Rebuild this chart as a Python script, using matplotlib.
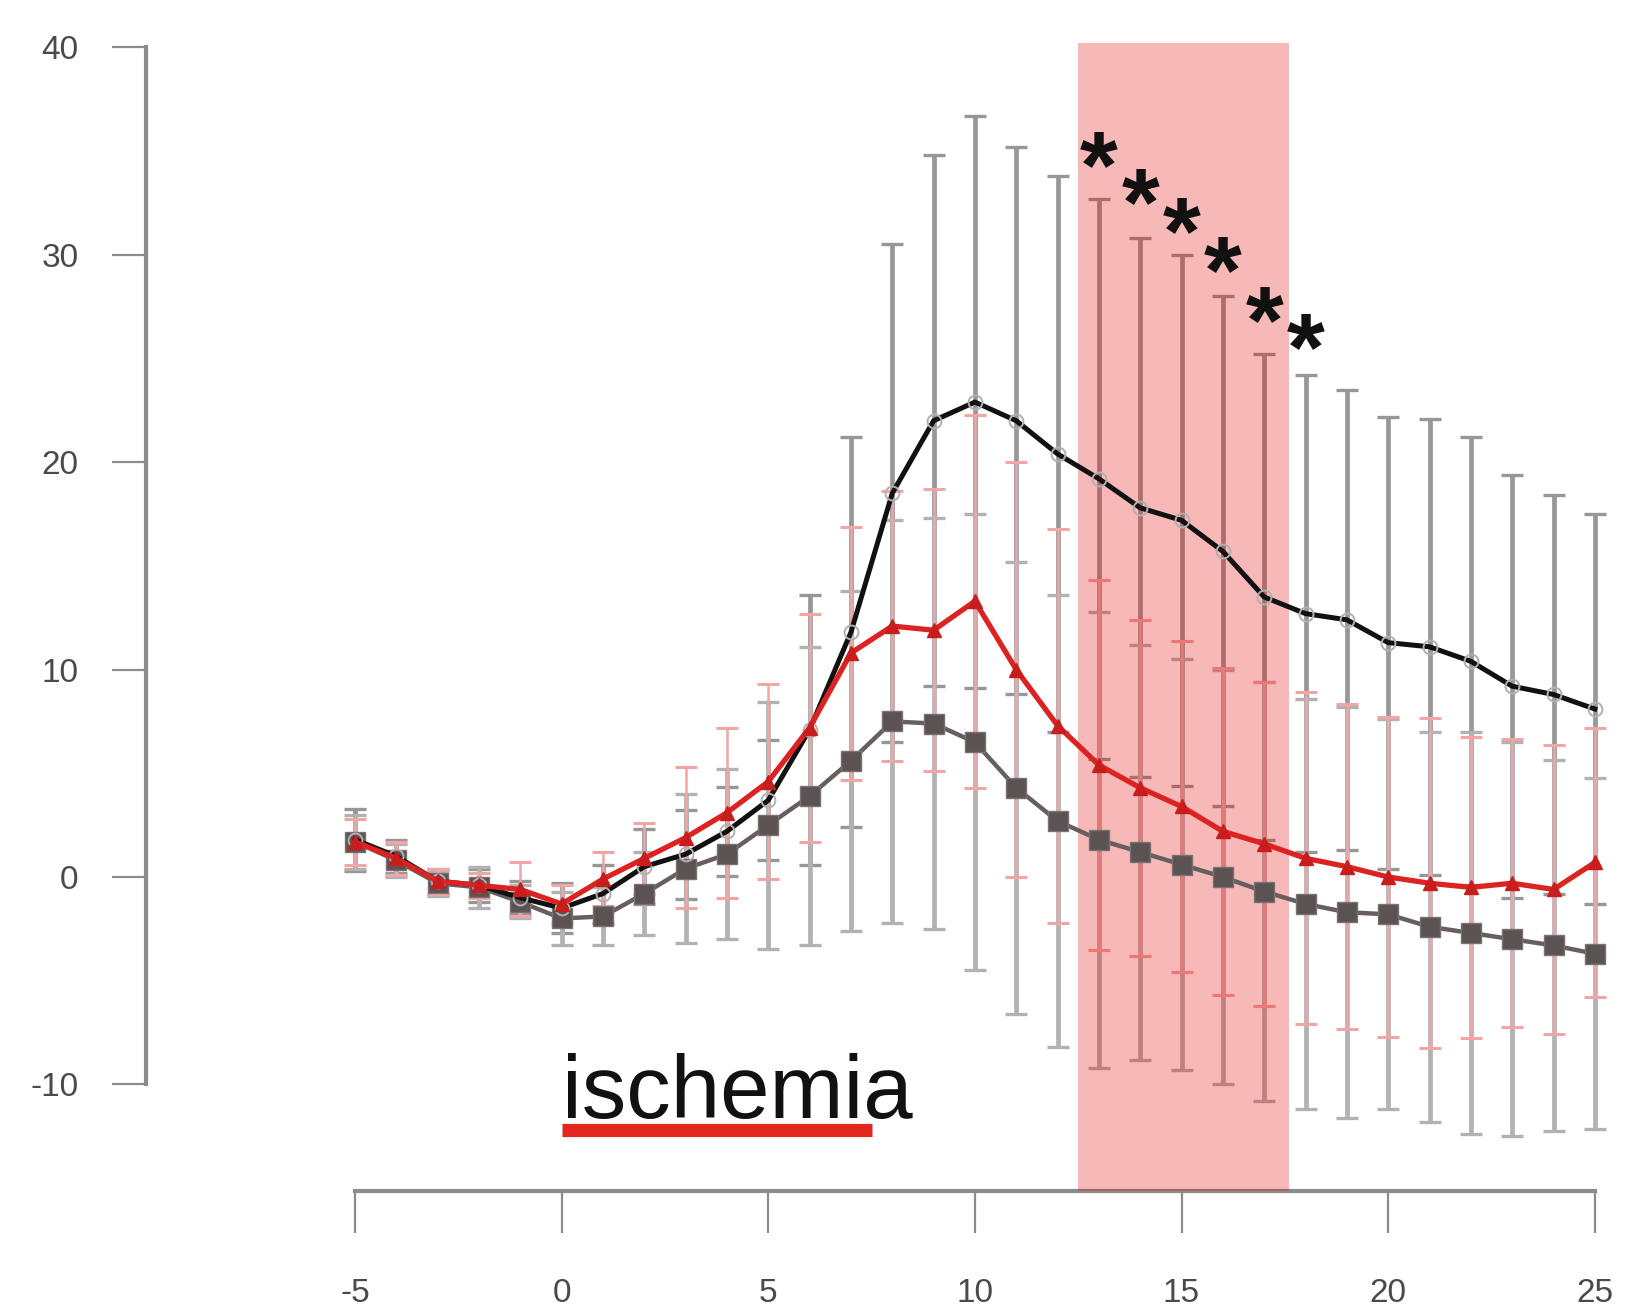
import numpy as np
import matplotlib
matplotlib.use('Agg')
import matplotlib.pyplot as plt
from matplotlib import transforms

# time axis (min) and the three group means / SDs
time = np.arange(-5, 26)

black_mean = [1.8, 1.0, -0.2, -0.4, -1.0, -1.5, -0.8, 0.5, 1.1, 2.2, 3.7, 7.1, 11.8,
              18.5, 22.0, 22.9, 22.0, 20.4, 19.2, 17.8, 17.2, 15.7, 13.5, 12.7, 12.4,
              11.3, 11.1, 10.4, 9.2, 8.8, 8.1]
black_sd = [1.5, 0.8, 0.6, 0.8, 0.8, 1.2, 1.4, 1.8, 2.15, 2.15, 2.9, 6.5, 9.4,
            12.0, 12.8, 13.8, 13.2, 13.4, 13.5, 13.0, 12.8, 12.3, 11.7, 11.5, 11.1,
            10.9, 11.0, 10.8, 10.2, 9.6, 9.4]

gray_mean = [1.7, 0.8, -0.3, -0.5, -1.2, -2.0, -1.9, -0.8, 0.4, 1.1, 2.5, 3.9, 5.6,
             7.5, 7.4, 6.5, 4.3, 2.7, 1.8, 1.2, 0.6, 0.0, -0.7, -1.3, -1.7,
             -1.8, -2.4, -2.7, -3.0, -3.3, -3.7]
gray_sd = [1.3, 0.8, 0.6, 1.0, 0.8, 1.3, 1.4, 2.0, 3.6, 4.1, 5.95, 7.2, 8.2,
           9.7, 9.9, 11.0, 10.9, 10.9, 11.0, 10.0, 9.9, 10.0, 10.1, 9.9, 9.9,
           9.4, 9.4, 9.7, 9.5, 8.95, 8.45]

red_mean = [1.7, 0.9, -0.2, -0.4, -0.6, -1.3, -0.1, 0.9, 1.9, 3.1, 4.6, 7.2, 10.8,
            12.1, 11.9, 13.3, 10.0, 7.3, 5.4, 4.3, 3.4, 2.2, 1.6, 0.9, 0.5,
            0.0, -0.3, -0.5, -0.3, -0.6, 0.7]
red_sd = [1.1, 0.8, 0.6, 0.6, 1.3, 0.9, 1.3, 1.7, 3.4, 4.1, 4.7, 5.5, 6.1,
          6.5, 6.8, 9.0, 10.0, 9.5, 8.9, 8.1, 8.0, 7.9, 7.8, 8.0, 7.85,
          7.7, 7.95, 7.25, 6.95, 6.95, 6.5]

# significance stars and shaded window
star_x = [13, 14, 15, 16, 17, 18]
star_y = [35.1, 33.3, 31.9, 30.0, 27.6, 26.3]
shade_x = [12.5, 17.6]
shade_top = 40.2

# ischemia period
isch_start, isch_end = 0, 7.5

x_ticks = [-5, 0, 5, 10, 15, 20, 25]
y_ticks = [-10, 0, 10, 20, 30, 40]

plt.rcParams['font.family'] = ['Liberation Sans', 'DejaVu Sans']

fig = plt.figure(figsize=(16.31, 13.15), dpi=100)
ax = fig.add_axes([146/1631, 1-1191/1315, (1625-146)/1631, (1191-30)/1315])
ax.set_xlim(-10.057, 25.73)
ax.set_ylim(-15.14, 40.84)

#error bars
ax.errorbar(time, black_mean, yerr=black_sd, fmt='none', ecolor='#979797',
            elinewidth=3.4, capsize=8, capthick=2.4, zorder=2)
ax.errorbar(time, gray_mean, yerr=gray_sd, fmt='none', ecolor='#b2b2b2',
            elinewidth=3.4, capsize=8, capthick=2.4, zorder=2)
ax.errorbar(time, red_mean, yerr=red_sd, fmt='none', ecolor='#f2a5a5',
            elinewidth=1.8, capsize=8, capthick=2.2, zorder=2.1)

#shaded window
ax.fill_between(shade_x, ax.get_ylim()[0], shade_top, color='#e30000', alpha=0.28,
                lw=0, zorder=3)

#group curves
ax.plot(time, gray_mean, '-', color='#675f5f', lw=3.2, marker='s', ms=15,
        mfc='#5b5353', mec='#7a7272', zorder=4)
ax.plot(time, black_mean, '-', color='#111111', lw=3.6, zorder=5)
ax.plot(time, black_mean, 'o', ms=10, mfc='none', mec='#b0b0b0', mew=1.4, zorder=5.5)
ax.plot(time, red_mean, '-', color='#dd2222', lw=3.8, marker='^', ms=10,
        mfc='#c81d1d', mec='#c81d1d', zorder=6)

#stars
fs_star = 70
star_tr = transforms.offset_copy(ax.transData, fig=fig, y=-0.50*fs_star, units='points')
for sx, sy in zip(star_x, star_y):
    ax.text(sx, sy, '*', fontsize=fs_star, ha='center', va='baseline',
            color='#111111', fontweight='bold', transform=star_tr, zorder=7)

#ischemia label
ax.text(isch_start, -11.6, 'ischemia', fontsize=64, ha='left', va='baseline',
        color='#111111', zorder=7)
ax.plot([isch_start, isch_end], [-12.2, -12.2], color='#e3261e', lw=9.5,
        solid_capstyle='butt', clip_on=False, zorder=7)

#R style axes
for s in ['top', 'right']:
    ax.spines[s].set_visible(False)
ax.spines['left'].set_bounds(-10, 40)
ax.spines['bottom'].set_bounds(-5, 25)
for s in ['left', 'bottom']:
    ax.spines[s].set_color('#8c8c8c')
    ax.spines[s].set_linewidth(3)
ax.set_xticks(x_ticks)
ax.set_xticklabels([str(t) for t in x_ticks])
ax.set_yticks(y_ticks)
ax.set_yticklabels([str(t) for t in y_ticks])
ax.tick_params(axis='y', length=24.5, width=1.6, color='#8c8c8c', pad=24,
               labelsize=24, labelcolor='#4a4a4a')
ax.tick_params(axis='x', length=30, width=1.6, color='#8c8c8c', pad=33,
               labelsize=24, labelcolor='#4a4a4a')

fig.savefig('out.png', dpi=100)
